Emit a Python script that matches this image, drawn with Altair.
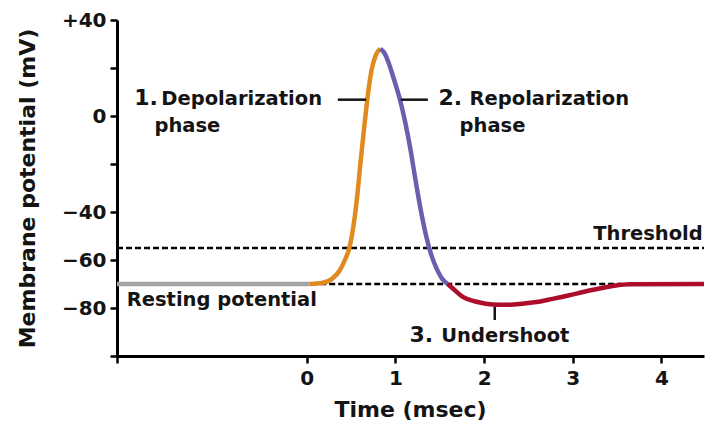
import altair as alt
import pandas as pd

# ---- data (time in msec, membrane potential in mV) ----
rest_t = [-2.14, 0.03]
rest_v = [-70, -70]

depol_t = [0.03, 0.17, 0.29, 0.37, 0.43, 0.48, 0.53, 0.57, 0.61, 0.65, 0.69, 0.73, 0.78, 0.83]
depol_v = [-70, -69.6, -67.7, -64.5, -60, -55, -45, -33, -18, -4, 9, 19, 25.5, 28]

repol_t = [0.83, 0.88, 0.93, 0.99, 1.05, 1.11, 1.17, 1.23, 1.29, 1.35, 1.41, 1.47, 1.53, 1.59]
repol_v = [28, 26, 21.5, 14.5, 7, -2.5, -14, -27.5, -40, -50.5, -58.5, -64, -68, -70]

under_t = [1.59, 1.67, 1.76, 1.89, 2.02, 2.17, 2.29, 2.43, 2.59, 2.77, 2.96, 3.13, 3.30, 3.47, 3.64, 4.48]
under_v = [-70, -72.6, -75.4, -77.2, -78.2, -78.6, -78.6, -78.2, -77.5, -76.2, -74.7, -73.2, -71.9, -70.7, -70.1, -70]

threshold_mv = -55
resting_mv = -70
x_min, x_max = -2.14, 4.48
y_min, y_max = -100, 40
x_ticks = [-2.14, 0, 1, 2, 3, 4]
y_ticks = [-100, -80, -60, -40, -20, 0, 20, 40]

phases = ["rest", "depol", "repol", "under"]
phase_colors = ["#a3a3a8", "#e08a1f", "#6a5fae", "#ad0d2b"]

rows = []
for name, ts, vs in [("rest", rest_t, rest_v), ("depol", depol_t, depol_v),
                     ("repol", repol_t, repol_v), ("under", under_t, under_v)]:
    for i, (t, v) in enumerate(zip(ts, vs)):
        rows.append({"t": t, "v": v, "phase": name, "i": i})
curve = pd.DataFrame(rows)

dotted = pd.DataFrame({
    "t": [x_min, 0.05],
    "t2": [x_max, 3.55],
    "v": [threshold_mv, resting_mv],
})

connectors_h = pd.DataFrame({
    "t": [0.35, 1.06],
    "t2": [0.67, 1.366],
    "v": [6.8, 6.8],
})
connector_v = pd.DataFrame({"t": [2.12], "v": [-79.5], "v2": [-85]})

num_labels = pd.DataFrame({
    "t": [-1.945, 1.486, 1.159],
    "v": [4.5, 4.5, -94.2],
    "text": ["1.", "2.", "3."],
})
word_labels = pd.DataFrame({
    "t": [-1.64, -1.717, 1.836, 1.723, -2.03, 1.517],
    "v": [4.5, -6.7, 4.5, -6.7, -79.3, -94.2],
    "text": ["Depolarization", "phase", "Repolarization", "phase",
             "Resting potential", "Undershoot"],
})
right_labels = pd.DataFrame({"t": [4.466], "v": [-51.8], "text": ["Threshold"]})

FONT = "DejaVu Sans"
INK = "#141414"

xs = alt.Scale(domain=[x_min, x_max], nice=False, zero=False)
ys = alt.Scale(domain=[y_min, y_max], nice=False, zero=False)

x_axis = alt.Axis(
    values=x_ticks, title="Time (msec)",
    labelExpr="datum.value < -1 ? '' : format(datum.value, 'd')",
    grid=False, domainColor="black", domainWidth=3, tickColor="black",
    tickWidth=2.5, tickSize=7, labelFont=FONT, labelFontSize=20,
    labelFontWeight="bold", labelColor=INK, labelPadding=5,
    titleFont=FONT, titleFontSize=22, titleFontWeight="bold", titleColor=INK,
    titleX=293, titleY=53, titleBaseline="middle", titleAlign="center",
)
y_axis = alt.Axis(
    values=y_ticks, title="Membrane potential (mV)",
    labelExpr="datum.value == 40 ? '+40' : (datum.value == -100 || datum.value == -20 || datum.value == 20) ? '' : datum.label",
    grid=False, domainColor="black", domainWidth=3, tickColor="black",
    tickWidth=2.5, tickSize=7, labelFont=FONT, labelFontSize=20,
    labelFontWeight="bold", labelColor=INK, labelPadding=4,
    titleFont=FONT, titleFontSize=22, titleFontWeight="bold", titleColor=INK,
    titleX=-90, titleY=168, titleBaseline="middle", titleAlign="center", titleAngle=-90,
)

base_x = alt.X("t:Q", scale=xs, axis=x_axis)
base_y = alt.Y("v:Q", scale=ys, axis=y_axis)

dots = alt.Chart(dotted).mark_rule(color="black", strokeWidth=2.3, strokeDash=[6, 3]).encode(
    x=alt.X("t:Q", scale=xs, axis=x_axis), x2="t2:Q", y=alt.Y("v:Q", scale=ys, axis=y_axis)
)

lines = alt.Chart(curve).mark_line(strokeWidth=4.5, interpolate="monotone").encode(
    x=base_x, y=base_y,
    color=alt.Color("phase:N", scale=alt.Scale(domain=phases, range=phase_colors), legend=None),
    order="i:Q",
)

conn_h = alt.Chart(connectors_h).mark_rule(color=INK, strokeWidth=2.5).encode(
    x=alt.X("t:Q", scale=xs), x2="t2:Q", y=alt.Y("v:Q", scale=ys)
)
conn_v = alt.Chart(connector_v).mark_rule(color=INK, strokeWidth=2.5).encode(
    x=alt.X("t:Q", scale=xs), y=alt.Y("v:Q", scale=ys), y2="v2:Q"
)

nums = alt.Chart(num_labels).mark_text(
    font=FONT, fontSize=22, fontWeight="bold", color=INK, align="left", baseline="alphabetic"
).encode(x=alt.X("t:Q", scale=xs), y=alt.Y("v:Q", scale=ys), text="text:N")

words = alt.Chart(word_labels).mark_text(
    font=FONT, fontSize=19.5, fontWeight="bold", color=INK, align="left", baseline="alphabetic"
).encode(x=alt.X("t:Q", scale=xs), y=alt.Y("v:Q", scale=ys), text="text:N")

rights = alt.Chart(right_labels).mark_text(
    font=FONT, fontSize=19.5, fontWeight="bold", color=INK, align="right", baseline="alphabetic"
).encode(x=alt.X("t:Q", scale=xs), y=alt.Y("v:Q", scale=ys), text="text:N")

chart = alt.layer(dots, lines, conn_h, conn_v, nums, words, rights).properties(
    width=587, height=336,
    autosize=alt.AutoSizeParams(type="none"),
    padding={"left": 109, "top": 12, "right": 6, "bottom": 66},
    background="white",
).configure_view(stroke=None)

chart.save("out.html", embed_options={"renderer": "svg", "actions": False})
